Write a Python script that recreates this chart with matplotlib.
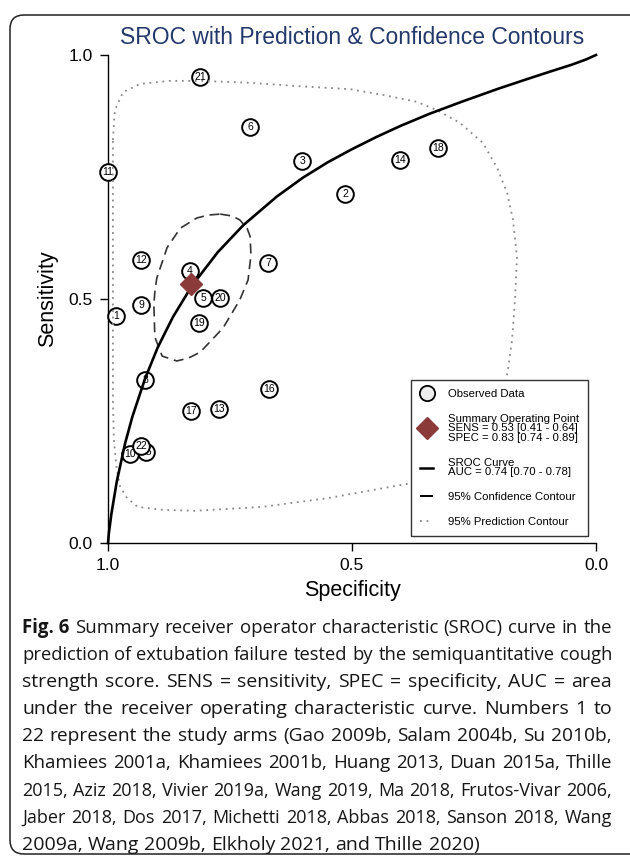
import matplotlib.pyplot as plt
from matplotlib.lines import Line2D
from matplotlib.patches import FancyBboxPatch
from matplotlib.transforms import IdentityTransform

plt.rcParams['font.family'] = ['Liberation Sans', 'DejaVu Sans']

# Observed study arms (specificity, sensitivity), numbered 1..22
study_ids = list(range(1, 23))
study_spec = [0.984, 0.514, 0.602, 0.832, 0.805, 0.709, 0.672, 0.924, 0.932, 0.955, 1.000,
              0.932, 0.773, 0.402, 0.922, 0.670, 0.830, 0.324, 0.814, 0.770, 0.811, 0.932]
study_sens = [0.465, 0.715, 0.783, 0.557, 0.502, 0.852, 0.574, 0.334, 0.488, 0.182, 0.760,
              0.580, 0.275, 0.785, 0.186, 0.316, 0.270, 0.809, 0.451, 0.502, 0.955, 0.199]

# Summary operating point
summary_spec = 0.83
summary_sens = 0.53

# SROC curve
sroc_spec = [1.0, 0.998, 0.993, 0.982, 0.965, 0.950, 0.924, 0.898, 0.867, 0.828, 0.775, 0.723,
             0.654, 0.600, 0.550, 0.500, 0.450, 0.400, 0.340, 0.273, 0.200, 0.140, 0.094, 0.050,
             0.020, 0.0]
sroc_sens = [0.0, 0.022, 0.060, 0.126, 0.204, 0.259, 0.337, 0.401, 0.463, 0.527, 0.596, 0.651,
             0.710, 0.749, 0.780, 0.807, 0.832, 0.855, 0.880, 0.905, 0.931, 0.951, 0.966, 0.980,
             0.991, 1.0]

# 95% confidence contour
conf_spec = [0.770, 0.745, 0.730, 0.715, 0.709, 0.707, 0.710, 0.713, 0.730, 0.764, 0.811, 0.835,
             0.859, 0.889, 0.904, 0.906, 0.904, 0.900, 0.879, 0.852, 0.818, 0.795, 0.770]
conf_sens = [0.674, 0.670, 0.662, 0.645, 0.629, 0.590, 0.565, 0.539, 0.498, 0.441, 0.391, 0.379,
             0.373, 0.383, 0.422, 0.488, 0.515, 0.543, 0.605, 0.645, 0.666, 0.672, 0.674]

# 95% prediction contour
pred_spec = [0.990, 0.986, 0.969, 0.934, 0.873, 0.811, 0.709, 0.607, 0.504, 0.436, 0.367, 0.326,
             0.279, 0.232, 0.203, 0.182, 0.170, 0.162, 0.166, 0.172, 0.180, 0.191, 0.213, 0.258,
             0.320, 0.377, 0.549, 0.684, 0.822, 0.889, 0.939, 0.961, 0.975, 0.982, 0.988, 0.990,
             0.990, 0.990, 0.990]
pred_sens = [0.826, 0.887, 0.924, 0.941, 0.947, 0.947, 0.943, 0.936, 0.930, 0.918, 0.904, 0.887,
             0.861, 0.820, 0.770, 0.717, 0.662, 0.586, 0.498, 0.416, 0.359, 0.293, 0.232, 0.174,
             0.139, 0.123, 0.092, 0.074, 0.066, 0.068, 0.074, 0.092, 0.115, 0.150, 0.211, 0.293,
             0.498, 0.703, 0.826]

tick_vals = [1.0, 0.5, 0.0]
tick_labels = ['1.0', '0.5', '0.0']

legend_labels = ['Observed Data',
                 'Summary Operating Point\nSENS = 0.53 [0.41 - 0.64]\nSPEC = 0.83 [0.74 - 0.89]',
                 'SROC Curve\nAUC = 0.74 [0.70 - 0.78]',
                 '95% Confidence Contour',
                 '95% Prediction Contour']

caption_lines = [
    'Summary receiver operator characteristic (SROC) curve in the',
    'prediction of extubation failure tested by the semiquantitative cough',
    'strength score. SENS = sensitivity, SPEC = specificity, AUC = area',
    'under the receiver operating characteristic curve. Numbers 1 to',
    '22 represent the study arms (Gao 2009b, Salam 2004b, Su 2010b,',
    'Khamiees 2001a, Khamiees 2001b, Huang 2013, Duan 2015a, Thille',
    '2015, Aziz 2018, Vivier 2019a, Wang 2019, Ma 2018, Frutos-Vivar 2006,',
    'Jaber 2018, Dos 2017, Michetti 2018, Abbas 2018, Sanson 2018, Wang',
    '2009a, Wang 2009b, Elkholy 2021, and Thille 2020)',
]

W, H = 630, 856
fig = plt.figure(figsize=(W / 100, H / 100), dpi=100)
fig.patch.set_facecolor('white')

# rounded frame around the whole figure panel
frame = FancyBboxPatch((10, 2), 640, H - 17, boxstyle='round,pad=0,rounding_size=14',
                       transform=IdentityTransform(), facecolor='none',
                       edgecolor='#222222', linewidth=1.1)
fig.add_artist(frame)

ax = fig.add_axes([108 / W, 313 / H, 488 / W, 488 / H])
ax.set_xlim(1, 0)
ax.set_ylim(0, 1)
for side in ['top', 'right']:
    ax.spines[side].set_visible(False)
for side in ['left', 'bottom']:
    ax.spines[side].set_linewidth(1.0)
ax.set_xticks(tick_vals)
ax.set_xticklabels(tick_labels)
ax.set_yticks(tick_vals)
ax.set_yticklabels(tick_labels)
ax.tick_params(direction='out', length=6, width=1.0, labelsize=12.5, pad=5)

ax.set_xlabel('Specificity', fontsize=15.5)
ax.xaxis.set_label_coords(0.5, -0.075)
ax.set_ylabel('Sensitivity', fontsize=15.5)
ax.yaxis.set_label_coords(-0.102, 0.5)

ax.text(0.5, 1.035, 'SROC with Prediction & Confidence Contours', transform=ax.transAxes,
        ha='center', va='center', fontsize=16.5, color='#23386b')

# study circles with their numbers
for i, (sid, sx, sy) in enumerate(zip(study_ids, study_spec, study_sens)):
    z = 3 + i * 0.02
    ax.plot(sx, sy, marker='o', ms=12, mfc='white', mec='black', mew=1.4,
            ls='none', clip_on=False, zorder=z)
    ax.text(sx, sy, str(sid), ha='center', va='center', fontsize=7.5,
            zorder=z + 0.01, clip_on=False)

ax.plot(pred_spec, pred_sens, color='#888888', lw=1.3, ls=(0, (1, 2.6)), zorder=5)
ax.plot(conf_spec, conf_sens, color='#333333', lw=1.2, ls=(0, (6, 3.5)), zorder=5)
ax.plot(sroc_spec, sroc_sens, color='black', lw=1.9, zorder=6, clip_on=False)
ax.plot(summary_spec, summary_sens, marker='D', ms=11.5, color='#8b3a3a', ls='none', zorder=7)

handles = [
    Line2D([], [], ls='none', marker='o', ms=11, mfc='#eeeeee', mec='black', mew=1.3),
    Line2D([], [], ls='none', marker='D', ms=11, color='#8b3a3a'),
    Line2D([], [], color='black', lw=1.8),
    Line2D([], [], color='black', lw=1.4, ls=(0, (7, 3))),
    Line2D([], [], color='#888888', lw=1.3, ls=(0, (1, 2.6))),
]
leg = ax.legend(handles, legend_labels, loc='lower right', bbox_to_anchor=(0.9836, 0.0143),
                borderaxespad=0, fontsize=8.2, frameon=True, fancybox=False,
                edgecolor='#333333', framealpha=1, handlelength=1.1, handletextpad=1.3,
                borderpad=0.8, labelspacing=1.3)
leg.get_frame().set_linewidth(1.0)
leg.set_zorder(10)
for t in leg.get_texts():
    t.set_linespacing(0.95)

# justified caption below the chart
renderer = fig.canvas.get_renderer()
x_left, x_right = 22 / W, 612 / W
min_gap = 5.0 / W
for i, line in enumerate(caption_lines):
    y = 1 - (628 + i * 27.1) / H
    size = 14.0
    while True:
        cap_font = dict(family=['Open Sans', 'DejaVu Sans'], fontsize=size, color='#161616')
        texts = []
        if i == 0:
            texts.append(fig.text(0, y, 'Fig. 6', va='center', fontweight='bold', **cap_font))
        texts += [fig.text(0, y, w, va='center', **cap_font) for w in line.split(' ')]
        widths = [t.get_window_extent(renderer).width / W for t in texts]
        if sum(widths) + min_gap * (len(texts) - 1) <= x_right - x_left or size < 11:
            break
        for t in texts:
            t.remove()
        size -= 0.2
    if i < len(caption_lines) - 1:
        gap = (x_right - x_left - sum(widths)) / (len(texts) - 1)
    else:
        gap = 5.0 / W
    x = x_left
    for t, w in zip(texts, widths):
        t.set_x(x)
        x += w + gap

fig.savefig('out.png', dpi=100)
